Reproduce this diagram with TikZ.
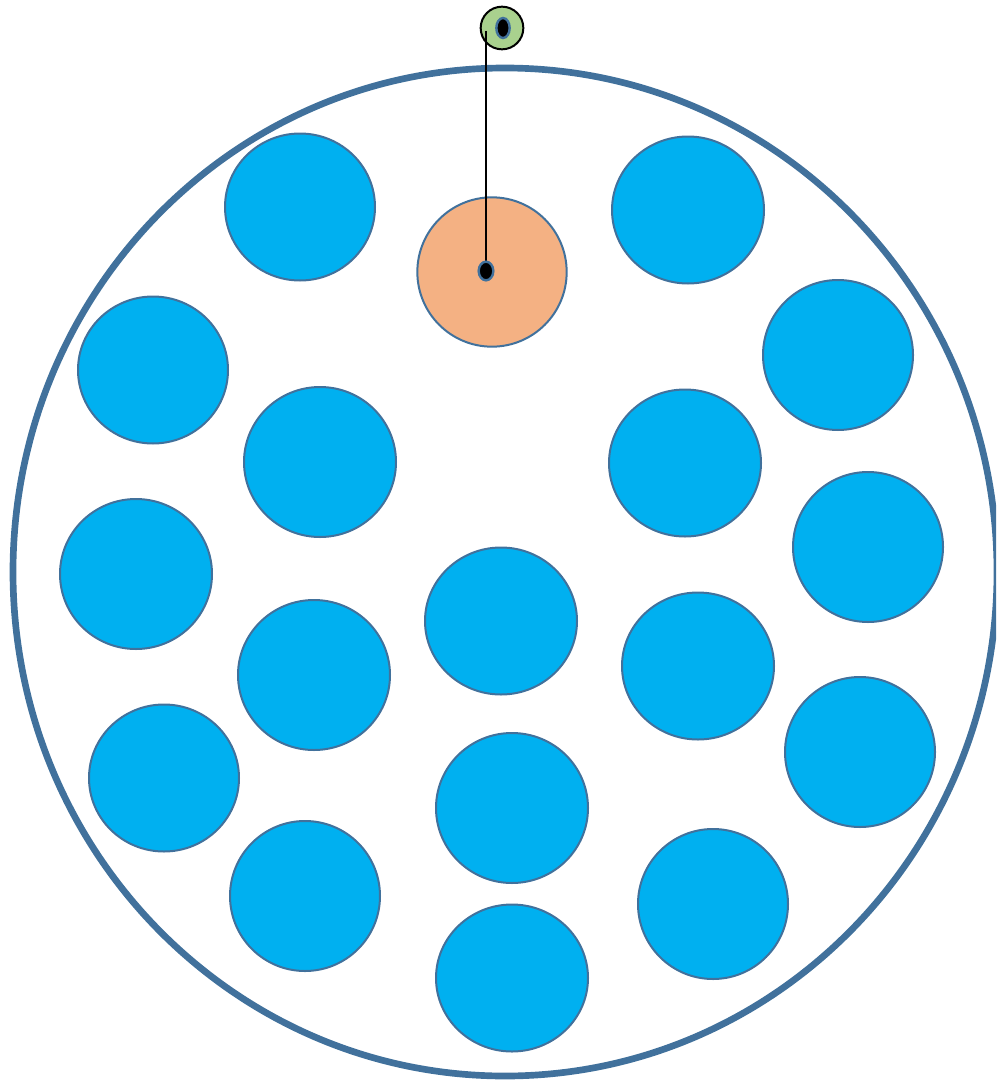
\documentclass[tikz,border=0pt]{standalone}
\usepackage{xcolor}
\usetikzlibrary{shapes.geometric}

\definecolor{rimblue}{HTML}{41719C}
\definecolor{pelletblue}{HTML}{00B0F0}
\definecolor{coreorange}{HTML}{F4B183}
\definecolor{tipgreen}{HTML}{A9D18E}

\begin{document}
\begin{tikzpicture}[
    x=0.75pt, y=-0.75pt,
    drum/.style={draw=rimblue, ellipse, line width=5pt, minimum width=738pt, minimum height=756pt, inner sep=0pt},
    pellet/.style={draw=rimblue, fill=pelletblue, ellipse, line width=1.5pt, inner sep=0pt},
    core/.style={draw=rimblue, fill=coreorange, circle, line width=1.5pt, minimum size=112pt, inner sep=0pt},
    dot/.style={draw=rimblue, fill=black, ellipse, line width=1.8pt, minimum width=11pt, minimum height=14pt, inner sep=0pt},
    tip/.style={draw=black, fill=tipgreen, circle, line width=1.5pt, minimum size=32pt, inner sep=0pt},
    wire/.style={draw=black, line width=1.5pt}
]
\clip (0,0) rectangle (996,1081);
\useasboundingbox (0,0) rectangle (996,1081);

\node[drum] (drum) at (505,572) {};

% blue pellets: x / y / width / height (px)
\foreach \px/\py/\pw/\ph [count=\i] in {
    300/207/150/147, 688/210/152/147, 838/355/150/150, 153/370/150/147,
    320/462/152/150, 685/463/152/147, 868/547/150/150, 136/574/152/150,
    501/621/152/147, 314/675/152/150, 698/666/152/147, 860/752/150/150,
    164/778/150/147, 512/808/152/150, 305/896/150/150, 713/904/150/150,
    512/978/152/147}
  \node[pellet, minimum width=0.75*\pw pt, minimum height=0.75*\ph pt] (p\i) at (\px,\py) {};

\node[core] (core) at (492,272) {};
\node[tip] (tip) at (502,28) {};
\node[dot, minimum width=10pt, minimum height=15pt] (eye) at (503,28) {};
\coordinate (top) at (486,31);

\draw[wire] (top) -- (486,271);
\node[dot] (center) at (486,271) {};
\end{tikzpicture}
\end{document}
